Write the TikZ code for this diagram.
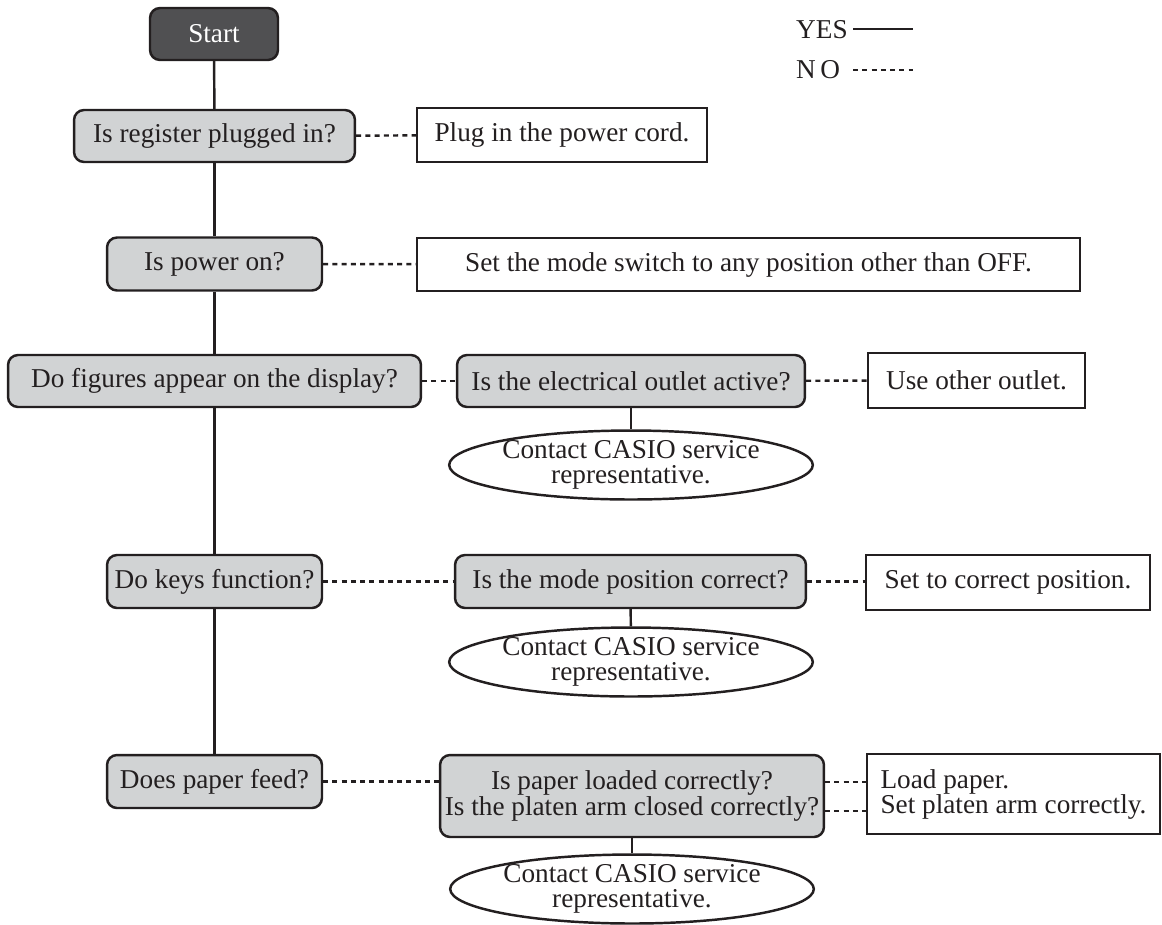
\documentclass[tikz,border=0pt]{standalone}
\usepackage{fontspec}
\setmainfont{Liberation Serif}
\usetikzlibrary{shapes.geometric}
\definecolor{ink}{HTML}{231F20}
\definecolor{boxgray}{HTML}{D1D3D4}
\definecolor{startgray}{HTML}{505052}
\begin{document}
\begin{tikzpicture}[x=0.02cm,y=-0.02cm,
  every node/.style={font=\fontsize{15.5}{17}\selectfont, text=ink},
  q/.style={draw=ink, line width=1.4pt, fill=boxgray, rounded corners=0.2cm, inner sep=0pt},
  startbox/.style={q, fill=startgray, text=white},
  act/.style={draw=ink, line width=1.4pt, fill=white, inner sep=0pt},
  oval/.style={ellipse, draw=ink, line width=1.4pt, fill=white, inner sep=0pt, align=center,
    minimum width=5.84cm, minimum height=1.3cm, font=\fontsize{15.5}{14.2}\selectfont},
  yesline/.style={draw=ink, line width=1.4pt},
  noline/.style={draw=ink, line width=1.4pt, dash pattern=on 0.1cm off 0.085cm},
]
\useasboundingbox (0,0) rectangle (1162,924);

% legend
\node[anchor=west] (yes) at (790,30) {YES};
\node[anchor=west] (no) at (790,70) {N\,O};
\coordinate (yesA) at (853,29);
\coordinate (yesB) at (913,29);
\coordinate (noA) at (853,70);
\coordinate (noB) at (913,70);
\draw[yesline] (yesA) -- (yesB);
\draw[noline] (noA) -- (noB);

% main column
\node[startbox, minimum width=2.56cm, minimum height=1.04cm] (start) at (214,34) {Start};
\node[q, minimum width=5.62cm, minimum height=1.04cm] (reg) at (214.5,136) {Is register plugged in?};
\node[q, minimum width=4.3cm, minimum height=1.06cm] (power) at (214.5,264) {Is power on?};
\node[q, minimum width=8.26cm, minimum height=1.04cm] (fig) at (214.5,381) {Do figures appear on the display?};
\node[q, minimum width=4.3cm, minimum height=1.06cm] (keys) at (214.5,581.5) {Do keys function?};
\node[q, minimum width=4.3cm, minimum height=1.06cm] (feed) at (214.5,781.5) {Does paper feed?};

% second column
\node[act, minimum width=5.8cm, minimum height=1.08cm] (plug) at (562,135) {Plug in the power cord.};
\node[act, minimum width=13.26cm, minimum height=1.06cm] (mode) at (748.5,264.5) {Set the mode switch to any position other than OFF.};
\node[q, minimum width=6.96cm, minimum height=1.04cm] (outlet) at (631,381) {Is the electrical outlet active?};
\node[q, minimum width=7.02cm, minimum height=1.06cm] (modepos) at (630.5,581.5) {Is the mode position correct?};
\node[q, minimum width=7.68cm, minimum height=1.64cm, align=center,
      font=\fontsize{15.5}{14.8}\selectfont] (paper) at (632,796)
      {Is paper loaded correctly?\\Is the platen arm closed correctly?};

% ellipses
\node[oval] (ell1) at (631,465) {Contact CASIO service\\representative.};
\node[oval] (ell2) at (631,662) {Contact CASIO service\\representative.};
\node[oval] (ell3) at (632,889) {Contact CASIO service\\representative.};

% third column
\node[act, minimum width=4.34cm, minimum height=1.1cm] (other) at (976.5,380.5) {Use other outlet.};
\node[act, minimum width=5.68cm, minimum height=1.1cm] (setpos) at (1008,582.5) {Set to correct position.};
\node[act, minimum width=5.86cm, minimum height=1.6cm, align=left,
      font=\fontsize{15.5}{14.2}\selectfont] (load) at (1013.5,794)
      {Load paper.\\Set platen arm correctly.};

% YES connectors
\draw[yesline] (start) -- (reg);
\draw[yesline] (reg) -- (power);
\draw[yesline] (power) -- (fig);
\draw[yesline] (fig) -- (keys);
\draw[yesline] (keys) -- (feed);
\draw[yesline] (outlet) -- (ell1);
\draw[yesline] (modepos) -- (ell2);
\draw[yesline] (paper) -- (ell3);

% NO connectors
\draw[noline] (reg) -- (plug);
\draw[noline] (power) -- (mode);
\draw[noline] (fig) -- (outlet);
\draw[noline] (outlet) -- (other);
\draw[noline] (keys) -- (modepos);
\draw[noline] (modepos) -- (setpos.west |- modepos.east);
\draw[noline] (feed) -- (paper.west |- feed.east);
\draw[noline] ([yshift=0.28cm]paper.east) -- ([yshift=0.28cm]paper.east -| load.west);
\draw[noline] ([yshift=-0.3cm]paper.east) -- ([yshift=-0.3cm]paper.east -| load.west);
\end{tikzpicture}
\end{document}
